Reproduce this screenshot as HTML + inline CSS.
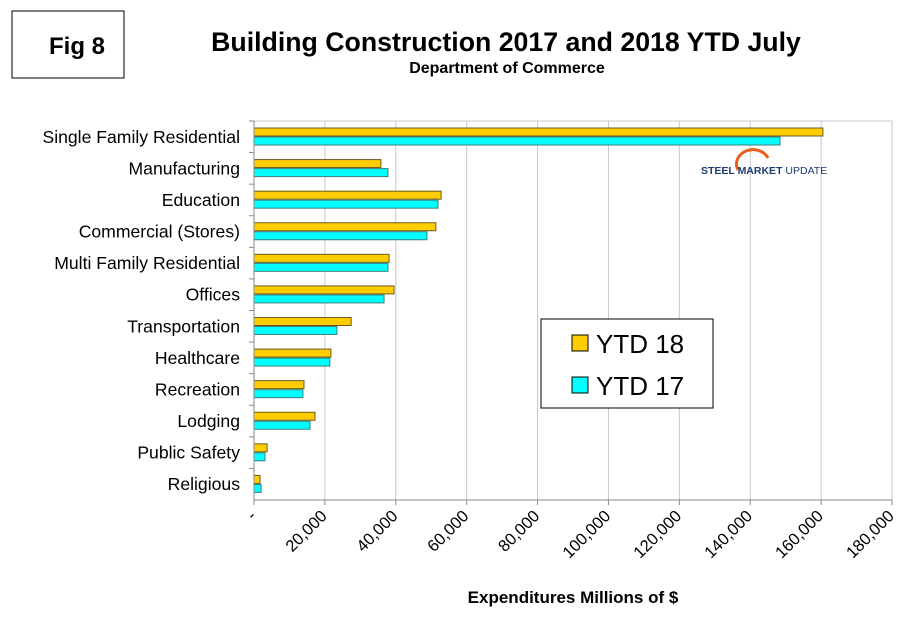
<!DOCTYPE html>
<html><head><meta charset="utf-8"><style>
body{margin:0;background:#fff;width:910px;height:622px;overflow:hidden;font-family:"Liberation Sans",Arial,sans-serif}
</style></head><body>
<svg id="c" width="910" height="622" xmlns="http://www.w3.org/2000/svg" font-family="Liberation Sans, Arial, sans-serif">
<rect x="12" y="11" width="112" height="67" fill="#fff" stroke="#000" stroke-width="1"/>
<text x="77" y="54" font-size="24" font-weight="bold" text-anchor="middle">Fig 8</text>
<text x="506" y="51" font-size="26.7" font-weight="bold" text-anchor="middle">Building Construction 2017 and 2018 YTD July</text>
<text x="507" y="73" font-size="16" font-weight="bold" text-anchor="middle">Department of Commerce</text>
<g id="grid"></g><g id="bars"></g><g id="axes"></g>
<g>
<path d="M738 170 A15 13 0 0 1 768 158" fill="none" stroke="#e8601c" stroke-width="3"/>
<text x="701" y="174" font-size="10.5" font-weight="bold" fill="#1f3a6e">STEEL MARKET <tspan font-weight="normal">UPDATE</tspan></text>
</g>
<g>
<rect x="541" y="319" width="172" height="89" fill="#fff" stroke="#000"/>
<rect x="572" y="335" width="16" height="16" fill="#ffcc00" stroke="#000"/>
<text x="596" y="353" font-size="26">YTD 18</text>
<rect x="572" y="377" width="16" height="16" fill="#00ffff" stroke="#000"/>
<text x="596" y="395" font-size="26">YTD 17</text>
</g>
<text x="573" y="603" font-size="17" font-weight="bold" text-anchor="middle">Expenditures Millions of $</text>
</svg>
<script>
const categories=["Single Family Residential","Manufacturing","Education","Commercial (Stores)","Multi Family Residential","Offices","Transportation","Healthcare","Recreation","Lodging","Public Safety","Religious"];
const ytd18=[160500,35800,52800,51300,38100,39500,27400,21700,14100,17200,3700,1700];
const ytd17=[148400,37800,51900,48800,37800,36700,23400,21400,13800,15800,3100,2000];
const tickValues=[0,20000,40000,60000,80000,100000,120000,140000,160000,180000];
const tickLabels=["-","20,000","40,000","60,000","80,000","100,000","120,000","140,000","160,000","180,000"];
const L=254,R=892,T=121,B=500,NS="http://www.w3.org/2000/svg";
const x=v=>L+(v/180000)*(R-L);
const band=(B-T)/categories.length;
const y=i=>T+i*band;
function mk(t,a,p){const e=document.createElementNS(NS,t);for(const k in a)e.setAttribute(k,a[k]);p.appendChild(e);return e;}
const g=document.getElementById('grid'),b=document.getElementById('bars'),ax=document.getElementById('axes');
mk('rect',{x:L,y:T,width:R-L,height:B-T,fill:'#fff',stroke:'#c8c8c8'},g);
tickValues.forEach((v,i)=>{
  if(i>0){const l=mk('line',{x1:x(v),x2:x(v),y1:T,y2:B,stroke:'#c8c8c8'},g);
  
  }
  mk('line',{x1:x(v),x2:x(v),y1:B,y2:B+5,stroke:'#888'},ax);
  const t=mk('text',{x:x(v)+3,y:B+17,'font-size':16.5,'text-anchor':'end',transform:`rotate(-45 ${x(v)+3} ${B+17})`},ax);
  t.textContent=tickLabels[i];
  
  
});
mk('line',{x1:L,x2:L,y1:T,y2:B,stroke:'#888'},ax);
mk('line',{x1:L,x2:R,y1:B,y2:B,stroke:'#888'},ax);
categories.forEach((c,i)=>{
  mk('line',{x1:L-5,x2:L,y1:y(i),y2:y(i),stroke:'#888'},ax);
  const t=mk('text',{x:240,y:y(i)+band/2+6,'font-size':17.6,'text-anchor':'end'},ax);
  t.textContent=c;
  
  
  const r1=mk('rect',{x:L,y:y(i)+7,width:x(ytd18[i])-L,height:8,fill:'#ffcc00',stroke:'#6b5a1e','stroke-width':1},b);
  
  
  const r2=mk('rect',{x:L,y:y(i)+16,width:x(ytd17[i])-L,height:8,fill:'#00ffff',stroke:'#3a8080','stroke-width':1},b);
  
  
});
</script>
</body></html>
